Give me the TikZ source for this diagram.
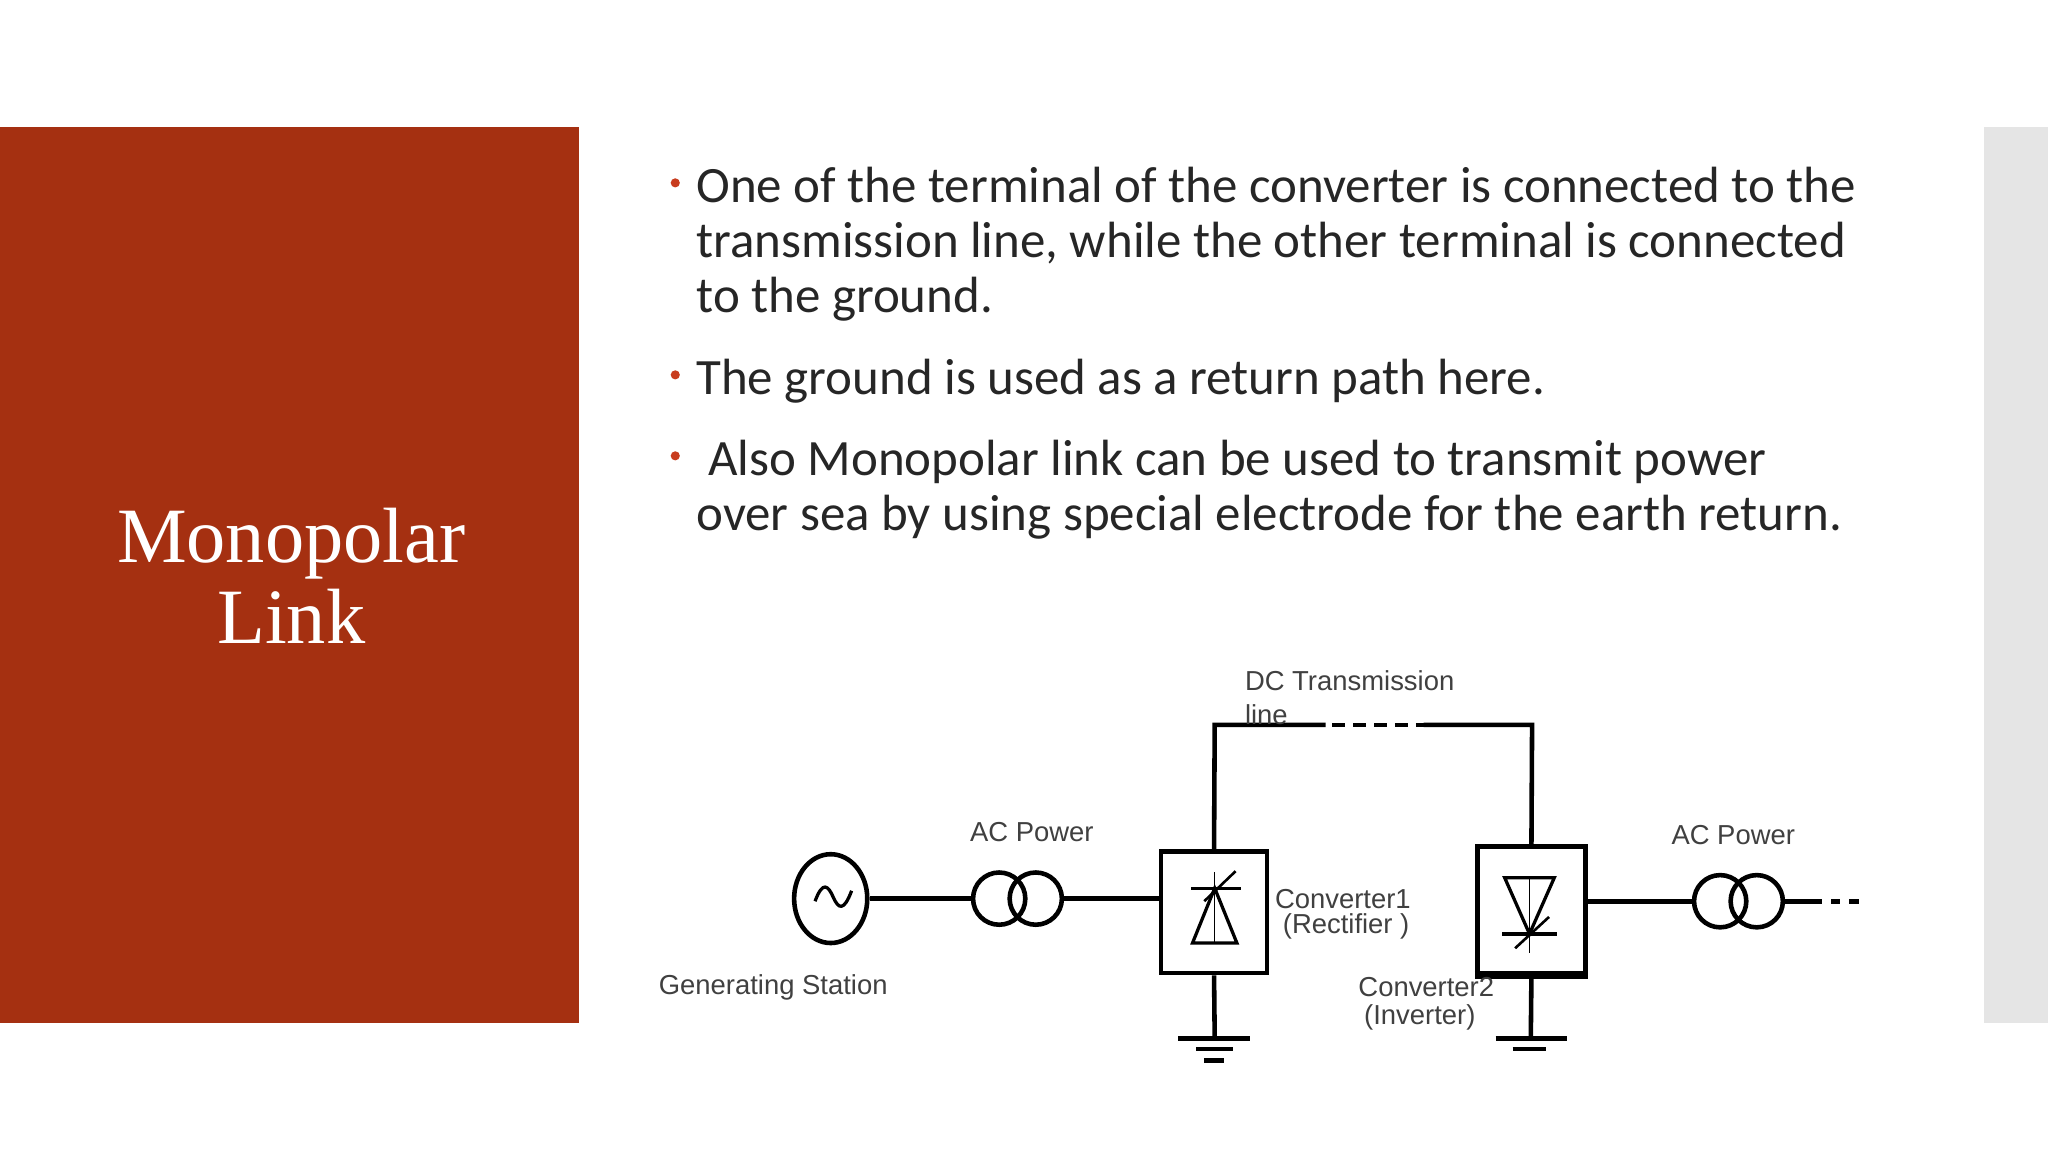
\documentclass[tikz,border=0pt]{standalone}
\usepackage{fontspec}
\usetikzlibrary{shapes.geometric}
\setmainfont{Carlito}
\newfontfamily\arialf{Liberation Sans}
\newfontfamily\serf{Liberation Serif}
\begin{document}
\begin{tikzpicture}[x=1pt,y=-1pt,
  wire/.style={line width=3.5pt},
  lab/.style={font=\arialf\fontsize{21}{22}\selectfont, text=black!75, inner sep=0},
  bul/.style={font=\fontsize{39}{42}\selectfont, text=black!85, anchor=north west, inner sep=0, align=left},
  dotb/.style={circle, fill={rgb,255:red,200;green,60;blue,30}, inner sep=0, minimum size=7pt}]
\useasboundingbox (0,0) rectangle (1568,882);
\fill[white] (0,0) rectangle (1568,882);
\fill[fill={rgb,255:red,165;green,48;blue,17}] (0,97) rectangle (443,783);
\fill[black!10] (1519,97) rectangle (1568,783);
\node[font=\serf\fontsize{60}{62}\selectfont, text=white, align=center] (title) at (223,441) {Monopolar\\Link};
% bullets
\node[dotb] (d1) at (517,140) {};
\node[dotb] (d2) at (517,287) {};
\node[dotb] (d3) at (517,349) {};
\node[bul] (b1) at (533,128) {One of the terminal of the converter is connected to the\\transmission line, while the other terminal is connected\\to the ground.};
\node[bul] (b2) at (533,275) {The ground is used as a return path here.};
\node[bul] (b3) at (533,337) {\hspace{9pt}Also Monopolar link can be used to transmit power\\over sea by using special electrode for the earth return.};
% diagram
\node[draw, wire, ellipse, minimum width=56pt, minimum height=68pt, inner sep=0] (gen) at (636,688) {};
\draw[line width=2.5pt] (624,690) .. controls (630,674) and (634,678) .. (638,687) .. controls (642,696) and (646,698) .. (652,682);
\node[draw, wire, circle, minimum size=40pt, inner sep=0] (t1a) at (765,688) {};
\node[draw, wire, circle, minimum size=40pt, inner sep=0] (t1b) at (793,688) {};
\node[draw, wire, minimum width=81pt, minimum height=93pt, inner sep=0] (c1) at (929.5,698.5) {};
\node[draw, wire, minimum width=83pt, minimum height=97pt, inner sep=0] (c2) at (1172.5,696.5) {};
\draw[line width=6pt] (c2.south west) -- (c2.south east);
\node[draw, wire, circle, minimum size=40pt, inner sep=0] (t2a) at (1317,690) {};
\node[draw, wire, circle, minimum size=40pt, inner sep=0] (t2b) at (1345,690) {};
\draw[wire] (gen.east) -- (t1a.west);
\draw[wire] (t1b.east) -- (t1b.east -| c1.west);
\draw[wire] (t2a.west -| c2.east) -- (t2a.west);
\coordinate (e1) at (1395,690);
\draw[wire] (t2b.east) -- (e1);
\draw[wire, dash pattern=on 7pt off 7pt] (e1) ++(7,0) -- ++(25,0);
\coordinate (k1) at (930,555); \coordinate (k2) at (1173,555);
\coordinate (m1) at (1015,555); \coordinate (m2) at (1090,555);
\draw[wire] (c1.north) -- (k1) -- (m1);
\draw[wire] (m2) -- (k2) -- (c2.north);
\draw[wire, dash pattern=on 10pt off 6pt] (m1) ++(5,0) -- (m2);
% thyristor 1 (up)
\draw[line width=2.5pt] (913,722) -- (947,722) -- (930,680) -- cycle;
\draw[line width=2.5pt] (912,680) -- (950,680);
\draw[line width=1pt] (930,668) -- (930,722);
\draw[line width=2pt] (922,690) -- (946,667);
% thyristor 2 (down)
\draw[line width=2.5pt] (1152,672) -- (1190,672) -- (1171,715) -- cycle;
\draw[line width=2.5pt] (1150,715) -- (1192,715);
\draw[line width=1pt] (1171,672) -- (1171,730);
\draw[line width=2pt] (1160,726) -- (1186,702);
% grounds
\coordinate (g1) at (930,795); \coordinate (g2) at (1172,795);
\draw[wire] (c1.south) -- (g1);
\draw[wire] (902,795) -- (957,795);
\draw[wire] (916,803) -- (944,803);
\draw[wire] (922,812) -- (937,812);
\draw[wire] (c2.south) -- (g2);
\draw[wire] (1145,795) -- (1200,795);
\draw[wire] (1158,803) -- (1184,803);
% labels
\node[lab, anchor=west] (ldc) at (953,521) {DC Transmission};
\node[lab, anchor=west] (lline) at (953,547) {line};
\node[lab] (lac1) at (790,637) {AC Power};
\node[lab] (lac2) at (1327,639) {AC Power};
\node[lab, anchor=west] (lc1) at (976,688) {Converter1};
\node[lab, anchor=west] (lr1) at (982,709) {(Rectifier )};
\node[lab] (lc2) at (1092,756) {Converter2};
\node[lab] (li2) at (1087,779) {(Inverter)};
\node[lab] (lgs) at (592,756) {Generating Station};
\end{tikzpicture}
\end{document}
